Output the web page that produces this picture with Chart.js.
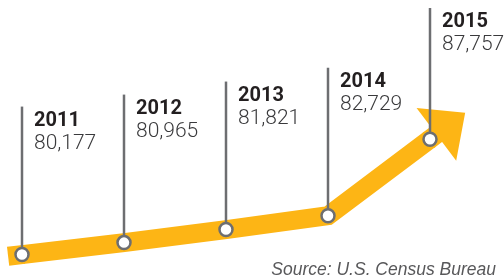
<!DOCTYPE html>
<html>
<head>
<meta charset="utf-8">
<script src="https://cdn.jsdelivr.net/npm/chart.js@4"></script>
<style>
  html, body { margin: 0; padding: 0; background: #fff; }
  #wrap { width: 504px; height: 278px; }
</style>
</head>
<body>
<div id="wrap"><canvas id="chart" width="504" height="278"></canvas></div>
<script>
// US households, thousands
var years      = ['2011', '2012', '2013', '2014', '2015'];
var households = [80177, 80965, 81821, 82729, 87757];
var sourceNote = 'Source: U.S. Census Bureau';

var YELLOW = '#FDB515';
var GRAY   = '#6D6E71';
var STEM   = 148;   // stem length above each point

function dir(a, b) {
    var dx = b.x - a.x, dy = b.y - a.y;
    var len = Math.sqrt(dx * dx + dy * dy);
    return { x: dx / len, y: dy / len };
}

// ── Arrow ends, stems, labels, source ────────────────────────────────────
var arrowPlugin = {
    id: 'arrowLabels',
    beforeDatasetDraw: function(chart, args) {
        var ctx = chart.ctx;
        var pts = chart.getDatasetMeta(args.index).data;
        var n = pts.length;
        ctx.save();
        if (args.index === 1) {
            // tail stub before the first point
            var d0 = dir(pts[0], pts[1]);
            ctx.strokeStyle = YELLOW;
            ctx.lineWidth = 19;
            ctx.lineCap = 'butt';
            ctx.beginPath();
            ctx.moveTo(pts[0].x - d0.x * 14, pts[0].y - d0.y * 14);
            ctx.lineTo(pts[0].x + d0.x * 2, pts[0].y + d0.y * 2);
            ctx.stroke();

            // head after the last point
            var p = pts[n - 1];
            var d = dir(pts[n - 2], p);
            var mx = p.x + d.x * 8, my = p.y + d.y * 8;
            ctx.beginPath();
            ctx.moveTo(p.x - d.x * 2, p.y - d.y * 2);
            ctx.lineTo(mx + d.x * 2, my + d.y * 2);
            ctx.stroke();
            ctx.fillStyle = YELLOW;
            ctx.beginPath();
            ctx.moveTo(mx - d.y * 33, my + d.x * 33);
            ctx.lineTo(mx + d.x * 36, my + d.y * 36);
            ctx.lineTo(mx + d.y * 33, my - d.x * 33);
            ctx.closePath();
            ctx.fill();
        } else {
            for (var i = 0; i < n; i++) {
                var pt = pts[i];
                var top = Math.max(8, pt.y - STEM);
                ctx.strokeStyle = GRAY;
                ctx.lineWidth = 2.5;
                ctx.beginPath();
                ctx.moveTo(pt.x, top);
                ctx.lineTo(pt.x, pt.y);
                ctx.stroke();

                ctx.textAlign = 'left';
                ctx.textBaseline = 'alphabetic';
                ctx.fillStyle = '#231F20';
                ctx.font = '700 20px Roboto';
                ctx.fillText(years[i], pt.x + 12, top + 19);
                ctx.fillStyle = '#3A3A3C';
                ctx.font = '300 21px Roboto';
                ctx.fillText(households[i].toLocaleString('en-US'), pt.x + 12, top + 42);
            }
        }
        ctx.restore();
    },
    afterDraw: function(chart) {
        var ctx = chart.ctx;
        ctx.save();
        ctx.fillStyle = '#58585A';
        ctx.font = 'italic 17.5px "Liberation Sans"';
        ctx.textAlign = 'right';
        ctx.textBaseline = 'alphabetic';
        ctx.fillText(sourceNote, 496, 275);
        ctx.restore();
    }
};

new Chart(document.getElementById('chart'), {
    type: 'line',
    data: {
        labels: years,
        datasets: [
            {
                data: households,
                showLine: false,
                pointRadius: 6.5,
                pointBackgroundColor: '#fff',
                pointBorderColor: GRAY,
                pointBorderWidth: 2.5,
                clip: false,
                order: 0
            },
            {
                data: households,
                borderColor: YELLOW,
                borderWidth: 19,
                borderCapStyle: 'butt',
                borderJoinStyle: 'miter',
                tension: 0,
                pointRadius: 0,
                clip: false,
                order: 1
            }
        ]
    },
    options: {
        responsive: false,
        animation: false,
        events: [],
        devicePixelRatio: 1,
        layout: {
            autoPadding: false,
            padding: { left: 22, right: 74, top: 135.5, bottom: 5.5 }
        },
        plugins: {
            legend: { display: false },
            tooltip: { enabled: false }
        },
        scales: {
            x: { type: 'category', offset: false, display: false },
            y: { min: 79000, max: 88000, display: false }
        }
    },
    plugins: [arrowPlugin]
});
</script>
</body>
</html>
